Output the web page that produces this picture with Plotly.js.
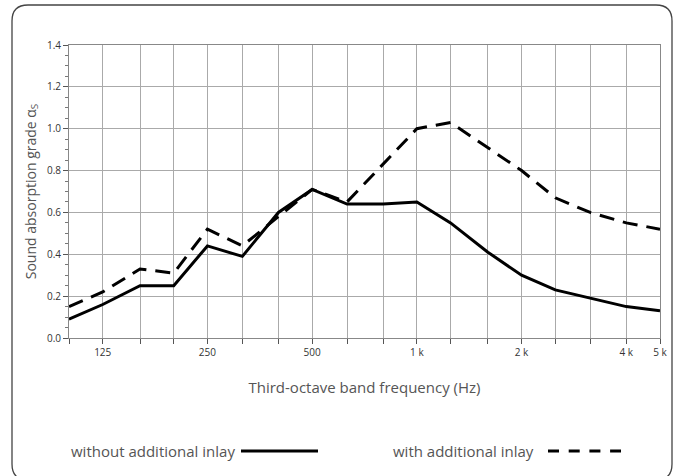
<!DOCTYPE html>
<html>
<head>
<meta charset="utf-8">
<script src="https://cdn.plot.ly/plotly-3.0.1.min.js"></script>
<style>html,body{margin:0;padding:0;background:#fff;}#chart{width:677px;height:476px;}</style>
</head>
<body>
<div id="chart"></div>
<script>
// Third-octave band centre frequencies (Hz)
const bands = [100,125,160,200,250,315,400,500,630,800,1000,1250,1600,2000,2500,3150,4000,5000];
// Sound absorption grade without additional inlay
const withoutInlay = [0.09,0.16,0.25,0.25,0.44,0.39,0.60,0.71,0.64,0.64,0.65,0.55,0.41,0.30,0.23,0.19,0.15,0.13];
// Sound absorption grade with additional inlay
const withInlay = [0.15,0.22,0.33,0.31,0.52,0.44,0.58,0.71,0.65,0.83,1.00,1.03,0.91,0.80,0.67,0.60,0.55,0.52];
// Labelled x ticks
const labelVals = [125,250,500,1000,2000,4000,5000];
const labelTexts = ['125','250','500','1 k','2 k','4 k','5 k'];
const seriesNames = ['without additional inlay','with additional inlay'];

const W = 677, H = 476;
const M = {l:69, r:17, t:45, b:138};
const pw = W - M.l - M.r, ph = H - M.t - M.b;
const px = x => (x - M.l) / pw;
const py = y => (H - M.b - y) / ph;

const unlabelled = bands.filter(b => labelVals.indexOf(b) < 0);

const traces = [
  {x: bands, y: withoutInlay, name: seriesNames[0], type:'scatter', mode:'lines',
   line:{color:'#000', width:3}},
  {x: bands, y: withInlay, name: seriesNames[1], type:'scatter', mode:'lines',
   line:{color:'#000', width:3, dash:'15px,9px'}}
];

// rounded frame
const fl=12, ft=5, fr=672, fb=480, rad=16;
const framePath = 'M '+px(fl+rad)+','+py(ft)+
  ' L '+px(fr-rad)+','+py(ft)+
  ' Q '+px(fr)+','+py(ft)+' '+px(fr)+','+py(ft+rad)+
  ' L '+px(fr)+','+py(fb-rad)+
  ' Q '+px(fr)+','+py(fb)+' '+px(fr-rad)+','+py(fb)+
  ' L '+px(fl+rad)+','+py(fb)+
  ' Q '+px(fl)+','+py(fb)+' '+px(fl)+','+py(fb-rad)+
  ' L '+px(fl)+','+py(ft+rad)+
  ' Q '+px(fl)+','+py(ft)+' '+px(fl+rad)+','+py(ft)+' Z';

const textFont = {family:'Open Sans, sans-serif', size:15, color:'#555'};

const layout = {
  width: W, height: H,
  margin: M,
  paper_bgcolor:'#fff', plot_bgcolor:'#fff',
  showlegend:false,
  xaxis:{
    type:'log',
    range:[Math.log10(100), Math.log10(5000)],
    tickmode:'array', tickvals: labelVals, ticktext: labelTexts,
    ticks:'outside', ticklen:5, tickcolor:'#555', tickwidth:1,
    showgrid:true, gridcolor:'#aaa', gridwidth:1,
    minor:{tickmode:'array', tickvals: unlabelled, ticks:'outside', ticklen:5, tickcolor:'#555',
           showgrid:true, gridcolor:'#aaa', gridwidth:1},
    showline:true, linecolor:'#888', linewidth:1, mirror:true,
    zeroline:false,
    tickfont:{family:'Open Sans, sans-serif', size:10, color:'#333'},
    title:{text:'Third-octave band frequency (Hz)', font:textFont, standoff:24}
  },
  yaxis:{
    range:[0,1.4], dtick:0.2, tick0:0, tickformat:'.1f',
    ticks:'outside', ticklen:5, tickcolor:'#555', tickwidth:1,
    minor:{dtick:0.05, ticks:'outside', ticklen:3, tickcolor:'#777', showgrid:false},
    showgrid:true, gridcolor:'#aaa', gridwidth:1,
    showline:true, linecolor:'#888', linewidth:1, mirror:true,
    zeroline:false,
    tickfont:{family:'Open Sans, sans-serif', size:10, color:'#333'},
    title:{text:'Sound absorption grade α<sub>S</sub>', font:{family:'Open Sans, sans-serif', size:14, color:'#555'}, standoff:7}
  },
  shapes:[
    {type:'path', xref:'paper', yref:'paper', path: framePath, line:{color:'#444', width:1.3}, layer:'below'},
    {type:'line', xref:'paper', yref:'paper', x0:px(241), x1:px(318), y0:py(451), y1:py(451), line:{color:'#000', width:3}},
    {type:'line', xref:'paper', yref:'paper', x0:px(548), x1:px(621), y0:py(451), y1:py(451), line:{color:'#000', width:3, dash:'11px,9.7px'}}
  ],
  annotations:[
    {xref:'paper', yref:'paper', x:px(237), y:py(451), xanchor:'right', yanchor:'middle', showarrow:false, text:seriesNames[0], font:textFont},
    {xref:'paper', yref:'paper', x:px(536), y:py(451), xanchor:'right', yanchor:'middle', showarrow:false, text:seriesNames[1], font:textFont}
  ]
};

Plotly.newPlot('chart', traces, layout, {displayModeBar:false, staticPlot:true});
</script>
</body>
</html>
